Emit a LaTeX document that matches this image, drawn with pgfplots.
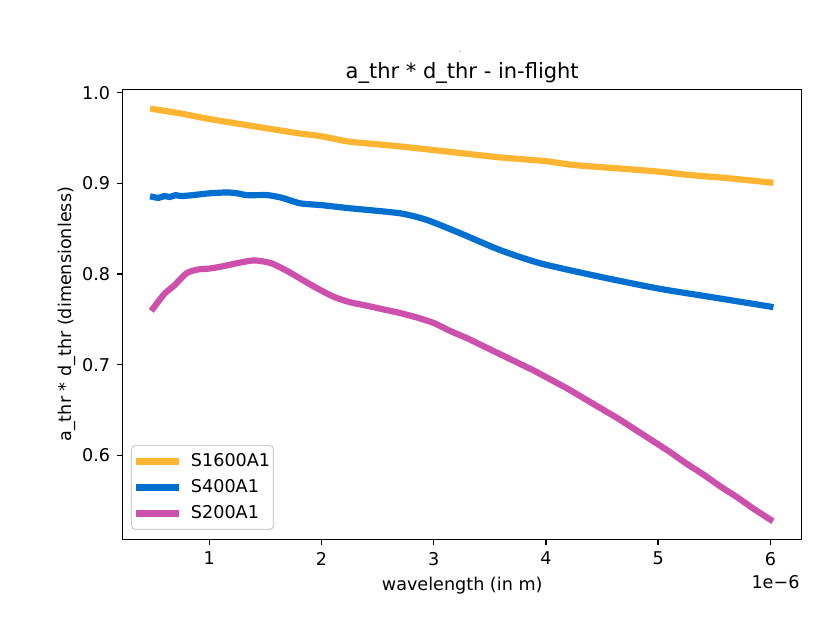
\documentclass[border=0pt]{standalone}
\usepackage{fontspec}
\setmainfont{DejaVu Sans}
\usepackage{pgfplots}
\usepackage{pgfplotstable}
\pgfplotsset{compat=1.18}
\definecolor{cOr}{RGB}{255,180,50}
\definecolor{cBl}{RGB}{0,112,208}
\definecolor{cMa}{RGB}{204,80,172}

\pgfplotstableread{
x y
0.5 0.982
0.75 0.977
1.0 0.971
1.25 0.966
1.5 0.961
1.81 0.955
2.0 0.952
2.2 0.947
2.286 0.9455
2.64 0.9415
2.94 0.9376
3.2 0.934
3.59 0.9287
4.0 0.9245
4.245 0.9203
4.7 0.916
5.0 0.913
5.3 0.909
5.6 0.906
6.0 0.901
}\tOr

\pgfplotstableread{
x y
0.5 0.885
0.55 0.884
0.6 0.886
0.65 0.885
0.7 0.887
0.75 0.886
0.85 0.887
1.0 0.889
1.16 0.890
1.25 0.889
1.34 0.887
1.52 0.887
1.65 0.884
1.81 0.878
2.0 0.876
2.256 0.8725
2.70 0.867
2.94 0.8596
3.236 0.845
3.59 0.8265
3.95 0.8118
4.48 0.797
5.0 0.784
5.5 0.774
6.0 0.764
}\tBl

\pgfplotstableread{
x y
0.5 0.762
0.6 0.778
0.685 0.787
0.8 0.801
0.9 0.805
1.0 0.806
1.1 0.808
1.25 0.812
1.4 0.815
1.55 0.812
1.7 0.803
1.81 0.795
1.95 0.785
2.107 0.775
2.25 0.769
2.405 0.765
2.55 0.761
2.70 0.757
2.85 0.752
3.0 0.746
3.15 0.737
3.3 0.729
3.45 0.720
3.6 0.711
3.75 0.702
3.9 0.693
4.05 0.683
4.2 0.673
4.35 0.662
4.5 0.651
4.65 0.640
4.8 0.628
4.95 0.616
5.1 0.604
5.25 0.591
5.4 0.579
5.55 0.566
5.7 0.554
5.85 0.541
6.0 0.529
}\tMa

\begin{document}
\begin{tikzpicture}
\useasboundingbox (-61.35pt,-46.85pt) rectangle (357.15pt,269.65pt);
\begin{axis}[
  at={(0pt,0pt)}, anchor=south west,
  scale only axis, width=339.5pt, height=225pt,
  xmin=0.229, xmax=6.279, ymin=0.5073, ymax=1.0038,
  xtick={1,2,3,4,5,6}, ytick={0.6,0.7,0.8,0.9,1.0},
  xtick pos=left, ytick pos=left,
  tick align=outside, major tick length=3.06pt,
  every tick/.style={black, line width=0.7pt},
  axis line style={line width=0.7pt},
  /pgf/number format/assume math mode=true,
  yticklabel style={/pgf/number format/fixed, /pgf/number format/fixed zerofill, /pgf/number format/precision=1},
  ticklabel style={font=\fontsize{8.8}{10}\selectfont},
  xticklabel style={anchor=north, inner sep=0pt, yshift=-3.06pt},
  yticklabel style={anchor=east, inner sep=0pt, xshift=-3.06pt},
  title={a\_thr * d\_thr - in-flight},
  every axis title/.style={at={(axis description cs:0.5,1.02444)}, anchor=base, font=\fontsize{10.5}{12}\selectfont},
  xlabel={wavelength (in m)},
  every axis x label/.style={at={(axis description cs:0.5,-0.11267)}, anchor=base, font=\fontsize{8.8}{10}\selectfont},
  ylabel={a\_thr * d\_thr (dimensionless)},
  every axis y label/.style={at={(axis description cs:-0.07511,0.5)}, rotate=90, anchor=base, font=\fontsize{8.8}{10}\selectfont},
  legend cell align=left,
  legend image code/.code={\draw[#1, line cap=butt] (0pt,0pt) -- (21.5pt,0pt);},
  legend style={at={(axis description cs:0.0122,0.0207)}, anchor=south west,
    draw=black!20, line width=0.5pt, rounded corners=2pt, fill=white, fill opacity=0.8, text opacity=1,
    font=\fontsize{8.8}{10}\selectfont, inner xsep=0.65pt, inner ysep=1.5pt, row sep=0pt, column sep=3.5pt,
    nodes={inner xsep=1pt, inner ysep=2.15pt, text height=6.7pt, text depth=2pt}},
]
\addplot[cOr, line width=3.1pt, line cap=rect, smooth, tension=0.4] table[x=x,y=y] {\tOr};
\addlegendentry{S1600A1}
\addplot[cBl, line width=3.1pt, line cap=rect, smooth, tension=0.4] table[x=x,y=y] {\tBl};
\addlegendentry{S400A1}
\addplot[cMa, line width=3.1pt, line cap=rect, smooth, tension=0.4] table[x=x,y=y] {\tMa};
\addlegendentry{S200A1}
\end{axis}
\node[anchor=base east, inner sep=0pt, font=\fontsize{8.8}{10}\selectfont] at (338.6pt,-24.5pt) {1e−6};
\node[inner sep=0pt, font=\fontsize{2.5}{3}\selectfont] at (168.65pt,243.5pt) {-};
\end{tikzpicture}
\end{document}
